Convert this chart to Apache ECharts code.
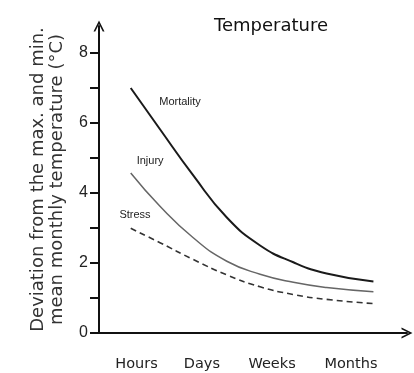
<!DOCTYPE html>
<html>
<head>
<meta charset="utf-8">
<script src="https://cdn.jsdelivr.net/npm/echarts@6/dist/echarts.min.js"></script>
<style>
  html, body { margin: 0; padding: 0; background: #fff; }
  #chart { width: 414px; height: 373px; }
</style>
</head>
<body>
<div id="chart"></div>
<script>
// time position along the (unlabelled) x scale, 0..100
const timeX     = [10.3, 19.8, 30.6, 41.5, 52.3, 63.1, 73.9, 89.1];
const mortality = [7.0, 5.82, 4.5, 3.3, 2.5, 2.02, 1.7, 1.47];
const injury    = [4.57, 3.62, 2.72, 2.05, 1.68, 1.45, 1.3, 1.18];
const stress    = [2.99, 2.58, 2.1, 1.66, 1.32, 1.1, 0.96, 0.84];

const periods   = ['Hours', 'Days', 'Weeks', 'Months'];
const periodAt  = [12.2, 33.4, 56.2, 81.8];

const yTicks    = [0, 1, 2, 3, 4, 5, 6, 7, 8];
const yLabels   = [0, 2, 4, 6, 8];

// where each curve's name is written
const notes = {
  Mortality: [26.3, 6.6],
  Injury:    [16.6, 4.92],
  Stress:    [11.7, 3.37],
};

const INK = '#111';
const CHEVRON = 'path://M0,10 L5,0 L10,10 L8.4,10 L5,3.2 L1.6,10 Z';

function pairs(ys) { return ys.map((y, i) => [timeX[i], y]); }

function note(name) {
  return {
    symbol: 'circle', symbolSize: 0, silent: true,
    label: { show: true, position: 'inside', formatter: '{b}', color: '#222',
             fontFamily: 'Liberation Sans', fontSize: 11 },
    data: [{ name, coord: notes[name] }],
  };
}

const chart = echarts.init(document.getElementById('chart'), null, { renderer: 'canvas' });

chart.setOption({
  backgroundColor: '#fff',
  animation: false,
  title: {
    text: 'Temperature',
    left: 209, top: 12,
    textStyle: { fontFamily: 'DejaVu Sans', fontSize: 18, fontWeight: 'normal', color: INK },
  },
  grid: { left: 99, right: 7, top: 26, bottom: 40 },
  xAxis: {
    type: 'value', min: 0, max: 100,
    splitLine: { show: false },
    axisLine: { lineStyle: { color: INK, width: 2 }, symbol: ['none', CHEVRON], symbolSize: [18, 11] },
    axisTick: { show: false },
    axisLabel: {
      customValues: periodAt,
      margin: 24,
      fontFamily: 'DejaVu Sans', fontSize: 14.5, color: '#222',
      formatter: (v) => periods[periodAt.indexOf(v)] ?? '',
    },
  },
  yAxis: {
    type: 'value', min: 0, max: 8.77,
    name: 'Deviation from the max. and min.\nmean monthly temperature (°C)',
    nameLocation: 'middle', nameRotate: 90, nameGap: 32,
    nameTextStyle: { fontFamily: 'DejaVu Sans', fontSize: 18, lineHeight: 19, color: '#333' },
    splitLine: { show: false },
    axisLine: { lineStyle: { color: INK, width: 2 }, symbol: ['none', CHEVRON], symbolSize: [13, 11] },
    axisTick: { customValues: yTicks, length: 9, lineStyle: { color: INK, width: 2 } },
    axisLabel: {
      customValues: yLabels, margin: 11,
      fontFamily: 'Liberation Sans', fontSize: 16, color: '#222',
    },
  },
  series: [
    {
      name: 'Mortality', type: 'line', smooth: true, symbol: 'none',
      data: pairs(mortality),
      lineStyle: { color: '#1a1a1a', width: 2 },
      markPoint: note('Mortality'),
    },
    {
      name: 'Injury', type: 'line', smooth: true, symbol: 'none',
      data: pairs(injury),
      lineStyle: { color: '#666', width: 1.5 },
      markPoint: note('Injury'),
    },
    {
      name: 'Stress', type: 'line', smooth: true, symbol: 'none',
      data: pairs(stress),
      lineStyle: { color: '#333', width: 1.6, type: [6, 4] },
      markPoint: note('Stress'),
    },
  ],
});
</script>
</body>
</html>
